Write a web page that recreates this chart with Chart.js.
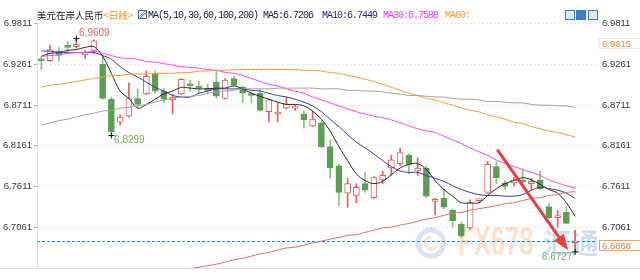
<!DOCTYPE html>
<html>
<head>
<meta charset="utf-8">
<script src="https://cdn.jsdelivr.net/npm/chart.js@4.4.0/dist/chart.umd.min.js"></script>
<style>
  html, body { margin: 0; padding: 0; background: #fff; }
  #wrap { position: relative; width: 640px; height: 280px; }
  #wrap canvas { position: absolute; left: 0; top: 0; }
  .hd { position: absolute; top: 10px; height: 11px; line-height: 11px; white-space: nowrap; z-index: 2; }
  .cn { font-family: "Noto Sans CJK SC"; font-size: 9.5px; }
  .mono { font-family: "Liberation Mono", monospace; font-size: 10px; letter-spacing: -1px; }
  .btn { position: absolute; top: 10px; width: 8px; height: 8px; border: 1px solid #3c7bd0; background: #dbe9f8; z-index: 2; }
</style>
</head>
<body>
<div id="wrap">
  <canvas id="kline" width="640" height="280"></canvas>
  <div class="hd cn" style="left:37px;color:#222">美元在岸人民币<span style="color:#f08a2c">&lt;日线&gt;</span></div>
  <div class="hd" style="left:138px;top:10px;width:7px;height:7px;border:1px solid #3f6fb5;background:linear-gradient(135deg,#fff 35%,#e44 42%,#fff 50%,#36c 60%,#fff 68%)"></div>
  <div class="hd mono" style="left:148px;color:#1c1c48">MA(5,10,30,60,100,200) MA5:6.7206</div>
  <div class="hd mono" style="left:322px;color:#2a2a90">MA10:6.7449</div>
  <div class="hd mono" style="left:383px;color:#ff33ff">MA30:6.7588</div>
  <div class="hd mono" style="left:445px;color:#ff9933">MA60:</div>
  <div class="btn" style="left:565px"></div>
  <div class="btn" style="left:576px;background:#3c7bd0"></div>
  <div class="btn" style="left:588px"></div>
</div>
<script>
// daily candles, USD/CNY onshore
const open = [6.933, 6.931, 6.944, 6.950, 6.950, 6.939, 6.945, 6.926, 6.879, 6.848,
              6.856, 6.880, 6.886, 6.913, 6.890, 6.878, 6.886, 6.899, 6.895, 6.894,
              6.902, 6.880, 6.907, 6.895, 6.886, 6.887, 6.862, 6.859, 6.867, 6.867,
              6.859, 6.843, 6.847, 6.815, 6.789, 6.752, 6.749, 6.765, 6.746, 6.770,
              6.786, 6.792, 6.803, 6.782, 6.786, 6.741, 6.745, 6.729, 6.710, 6.705,
              6.742, 6.753, 6.788, 6.766, 6.766, 6.769, 6.765, 6.770, 6.734, 6.719,
              6.726, 6.685];
const high = [6.937, 6.952, 6.949, 6.957, 6.9609, 6.945, 6.959, 6.937, 6.882, 6.858,
              6.901, 6.893, 6.917, 6.917, 6.894, 6.886, 6.907, 6.905, 6.903, 6.899,
              6.917, 6.907, 6.910, 6.897, 6.889, 6.893, 6.879, 6.874, 6.882, 6.872,
              6.863, 6.863, 6.850, 6.824, 6.791, 6.772, 6.765, 6.780, 6.774, 6.782,
              6.803, 6.813, 6.805, 6.800, 6.789, 6.745, 6.757, 6.731, 6.713, 6.743,
              6.744, 6.795, 6.795, 6.769, 6.773, 6.785, 6.772, 6.782, 6.738, 6.729,
              6.735, 6.702];
const low = [6.919, 6.930, 6.930, 6.941, 6.948, 6.934, 6.941, 6.879, 6.8299, 6.844,
             6.855, 6.867, 6.885, 6.887, 6.874, 6.859, 6.885, 6.890, 6.887, 6.886,
             6.880, 6.879, 6.897, 6.874, 6.874, 6.863, 6.848, 6.848, 6.866, 6.864,
             6.840, 6.842, 6.814, 6.772, 6.735, 6.733, 6.739, 6.753, 6.745, 6.765,
             6.776, 6.789, 6.778, 6.776, 6.746, 6.723, 6.731, 6.706, 6.692, 6.703,
             6.741, 6.752, 6.765, 6.757, 6.762, 6.762, 6.756, 6.756, 6.718, 6.706,
             6.711, 6.6727];
const close = [6.931, 6.946, 6.938, 6.949, 6.953, 6.942, 6.958, 6.880, 6.835, 6.855,
               6.880, 6.872, 6.910, 6.890, 6.879, 6.882, 6.906, 6.897, 6.894, 6.891,
               6.883, 6.905, 6.898, 6.887, 6.884, 6.864, 6.878, 6.860, 6.872, 6.868,
               6.851, 6.852, 6.815, 6.786, 6.753, 6.765, 6.760, 6.756, 6.773, 6.776,
               6.797, 6.807, 6.791, 6.786, 6.748, 6.743, 6.733, 6.715, 6.694, 6.739,
               6.743, 6.791, 6.773, 6.761, 6.770, 6.767, 6.768, 6.758, 6.719, 6.721,
               6.711, 6.6868];

// moving averages
const ma5 = [6.937, 6.941, 6.942, 6.945, 6.946, 6.949, 6.950, 6.937, 6.914, 6.890,
             6.880, 6.867, 6.872, 6.879, 6.886, 6.890, 6.895, 6.894, 6.893, 6.893,
             6.894, 6.894, 6.897, 6.893, 6.887, 6.883, 6.879, 6.875, 6.872, 6.872,
             6.870, 6.863, 6.852, 6.836, 6.815, 6.796, 6.778, 6.769, 6.765, 6.768,
             6.777, 6.786, 6.791, 6.792, 6.784, 6.769, 6.757, 6.748, 6.739, 6.739,
             6.739, 6.749, 6.758, 6.765, 6.769, 6.773, 6.770, 6.764, 6.757, 6.752,
             6.739, 6.7206];
const ma10 = [6.944, 6.944, 6.942, 6.942, 6.942, 6.942, 6.942, 6.938, 6.933, 6.923,
              6.915, 6.909, 6.902, 6.895, 6.890, 6.884, 6.882, 6.882, 6.887, 6.890,
              6.893, 6.893, 6.893, 6.893, 6.891, 6.890, 6.887, 6.884, 6.882, 6.879,
              6.875, 6.870, 6.862, 6.852, 6.842, 6.831, 6.821, 6.813, 6.805, 6.796,
              6.788, 6.782, 6.780, 6.780, 6.776, 6.772, 6.768, 6.762, 6.757, 6.753,
              6.750, 6.749, 6.749, 6.748, 6.748, 6.750, 6.756, 6.760, 6.758, 6.756,
              6.752, 6.7449];
const ma30 = [6.937, 6.938, 6.939, 6.941, 6.942, 6.942, 6.944, 6.941, 6.938, 6.935,
              6.934, 6.933, 6.930, 6.929, 6.927, 6.925, 6.923, 6.922, 6.921, 6.919,
              6.918, 6.915, 6.914, 6.911, 6.907, 6.903, 6.899, 6.897, 6.893, 6.890,
              6.887, 6.882, 6.878, 6.874, 6.870, 6.866, 6.862, 6.859, 6.856, 6.854,
              6.851, 6.847, 6.843, 6.839, 6.836, 6.834, 6.829, 6.824, 6.819, 6.813,
              6.808, 6.803, 6.797, 6.792, 6.788, 6.784, 6.780, 6.776, 6.770, 6.766,
              6.762, 6.7588];
const ma60 = [6.895, 6.898, 6.899, 6.901, 6.903, 6.905, 6.907, 6.909, 6.911, 6.911,
              6.913, 6.913, 6.913, 6.914, 6.914, 6.914, 6.915, 6.915, 6.917, 6.917,
              6.918, 6.918, 6.919, 6.919, 6.919, 6.919, 6.919, 6.919, 6.919, 6.919,
              6.918, 6.918, 6.917, 6.915, 6.914, 6.911, 6.909, 6.906, 6.903, 6.899,
              6.895, 6.891, 6.887, 6.884, 6.880, 6.878, 6.874, 6.871, 6.867, 6.864,
              6.862, 6.858, 6.855, 6.852, 6.848, 6.846, 6.842, 6.839, 6.836, 6.834,
              6.831, 6.828];
const ma100 = [6.844, 6.847, 6.850, 6.852, 6.855, 6.858, 6.860, 6.863, 6.864, 6.867,
               6.868, 6.870, 6.872, 6.875, 6.878, 6.880, 6.882, 6.883, 6.884, 6.887,
               6.889, 6.890, 6.891, 6.893, 6.893, 6.893, 6.893, 6.894, 6.894, 6.894,
               6.894, 6.894, 6.893, 6.893, 6.893, 6.891, 6.891, 6.890, 6.890, 6.889,
               6.887, 6.886, 6.884, 6.884, 6.883, 6.882, 6.882, 6.880, 6.879, 6.879,
               6.878, 6.876, 6.876, 6.875, 6.874, 6.874, 6.872, 6.871, 6.871, 6.870,
               6.870, 6.868];
const ma200 = [6.605, 6.608, 6.610, 6.613, 6.616, 6.619, 6.621, 6.624, 6.627, 6.629,
               6.632, 6.635, 6.637, 6.640, 6.643, 6.645, 6.648, 6.650, 6.652, 6.654,
               6.656, 6.659, 6.662, 6.664, 6.667, 6.670, 6.672, 6.675, 6.678, 6.679,
               6.682, 6.685, 6.687, 6.690, 6.692, 6.695, 6.696, 6.699, 6.702, 6.705,
               6.706, 6.709, 6.711, 6.714, 6.717, 6.719, 6.722, 6.725, 6.726, 6.729,
               6.731, 6.733, 6.735, 6.738, 6.739, 6.742, 6.745, 6.746, 6.749, 6.750,
               6.753, 6.754];

// axis ticks and slots (62 candles + 2 empty slots on the right)
const tickVals = [6.7061, 6.7611, 6.8161, 6.8711, 6.9261, 6.9811];
const yMin = 6.6509, yMax = 6.9986;
const slots = Array.from({ length: 64 }, (_, i) => String(i + 1));

// annotations: extreme marks, arrow (in candle index / price units), right-side tag
const markIdx = [4, 8, 61];
const markKind = ['high', 'low', 'low'];
const arrowFrom = [52.1, 6.811];
const arrowTo = [60.2, 6.675];
const refTag = 6.9615;

const RED = '#e0605d', GREEN = '#5b9f55', GREEN_WICK = '#8cc482';
const up = close.map((c, i) => c >= open[i]);

const extras = {
    id: 'extras',
    beforeDatasetsDraw(chart) {
        const { ctx, chartArea: a } = chart;
        ctx.save();
        ctx.beginPath();
        ctx.rect(a.left, a.top, a.right - a.left, a.bottom - a.top);
        ctx.clip();
        // watermark
        const cy = a.bottom - 25;
        ctx.lineWidth = 5;
        ctx.strokeStyle = 'rgba(150,180,215,0.35)';
        ctx.beginPath(); ctx.arc(a.right - 166, cy, 13, 0, Math.PI * 2); ctx.stroke();
        ctx.strokeStyle = 'rgba(250,170,110,0.35)';
        ctx.lineWidth = 3;
        ctx.beginPath(); ctx.arc(a.right - 166, cy, 6, Math.PI * 0.2, Math.PI * 1.5); ctx.stroke();
        ctx.textBaseline = 'middle';
        ctx.fillStyle = 'rgba(252,180,125,0.4)';
        ctx.font = 'bold 40px "Liberation Sans"';
        ctx.save();
        ctx.translate(a.right - 139, cy + 1);
        ctx.scale(0.64, 1);
        ctx.fillText('FX678', 0, 0);
        ctx.restore();
        ctx.fillStyle = 'rgba(120,160,215,0.35)';
        ctx.font = 'bold 28px "Noto Sans CJK SC"';
        ctx.fillText('汇通网', a.right - 54, cy);
        ctx.restore();
    },
    afterDatasetsDraw(chart) {
        const { ctx, chartArea: a, scales: { x, y } } = chart;
        ctx.save();
        // last price line, drawn as short blue dashes
        const last = close.length - 1;
        const ly = Math.round(y.getPixelForValue(close[last]));
        ctx.fillStyle = '#1f8cf5';
        for (let dx = a.left; dx < a.right; dx += 5) {
            ctx.fillRect(dx, ly, 3, 1);
        }

        // extreme marks
        ctx.font = '10px "Liberation Sans"';
        ctx.textAlign = 'center';
        ctx.textBaseline = 'middle';
        markIdx.forEach((i, k) => {
            const isHigh = markKind[k] === 'high';
            const v = isHigh ? high[i] : low[i];
            const px = x.getPixelForValue(i), py = y.getPixelForValue(v);
            ctx.strokeStyle = '#111';
            ctx.lineWidth = 1;
            ctx.beginPath();
            ctx.moveTo(px - 3, py); ctx.lineTo(px + 3, py);
            ctx.moveTo(px, py - 3); ctx.lineTo(px, py + 3);
            ctx.stroke();
            const side = px > a.right - 40 ? -1 : 1;
            ctx.fillStyle = isHigh ? '#e8605a' : '#76b05a';
            ctx.fillText(v.toFixed(4), px + side * 18, py + (isHigh ? -5 : 5));
        });

        // arrow
        const x1 = x.getPixelForValue(arrowFrom[0]), y1 = y.getPixelForValue(arrowFrom[1]);
        const x2 = x.getPixelForValue(arrowTo[0]), y2 = y.getPixelForValue(arrowTo[1]);
        const ang = Math.atan2(y2 - y1, x2 - x1);
        const head = 16, half = 6;
        const bx = x2 - head * Math.cos(ang), by = y2 - head * Math.sin(ang);
        ctx.strokeStyle = ctx.fillStyle = '#ef3b3b';
        ctx.lineWidth = 3;
        ctx.beginPath(); ctx.moveTo(x1, y1); ctx.lineTo(bx, by); ctx.stroke();
        ctx.beginPath();
        ctx.moveTo(x2, y2);
        ctx.lineTo(bx + half * Math.sin(ang), by - half * Math.cos(ang));
        ctx.lineTo(bx - half * Math.sin(ang), by + half * Math.cos(ang));
        ctx.closePath(); ctx.fill();
        ctx.restore();
    },
    afterDraw(chart) {
        const { ctx, chartArea: a, scales: { y } } = chart;
        ctx.save();
        // bottom frame
        ctx.strokeStyle = '#d6e0ea';
        ctx.lineWidth = 1;
        ctx.beginPath(); ctx.moveTo(0, a.bottom + 0.5); ctx.lineTo(640, a.bottom + 0.5); ctx.stroke();
        // price tags on the right axis
        ctx.font = '9.5px "Liberation Sans"';
        ctx.textAlign = 'left';
        ctx.textBaseline = 'middle';
        const tag = (val, color, border, dy) => {
            const ty = Math.round(y.getPixelForValue(val)) + dy;
            ctx.fillStyle = '#fff';
            ctx.fillRect(a.right + 2, ty, 43, 11);
            ctx.strokeStyle = border;
            ctx.strokeRect(a.right + 2.5, ty + 0.5, 43, 10);
            ctx.fillStyle = color;
            ctx.fillText(val.toFixed(4), a.right + 5, ty + 6);
        };
        tag(refTag, '#f08a2c', '#e8e8e8', 0);
        tag(close[close.length - 1], '#d9823c', '#f3a460', -1);
        ctx.restore();
    }
};

const tickFont = { family: 'Liberation Sans', size: 9.5 };
const line = (data, color) => ({
    type: 'line', data, borderColor: color, borderWidth: 1,
    pointRadius: 0, tension: 0.35, order: 0
});

new Chart(document.getElementById('kline'), {
    type: 'bar',
    data: {
        labels: slots,
        datasets: [
            line(ma200, '#e26b6b'),
            line(ma100, '#a0a0a0'),
            line(ma60, '#ff9a33'),
            line(ma30, '#ff44ff'),
            line(ma10, '#3b3bae'),
            line(ma5, '#2a2a2a'),
            {
                label: 'body',
                data: open.map((o, i) => [o, close[i]]),
                backgroundColor: up.map(u => u ? '#ffffff' : GREEN),
                borderColor: up.map(u => u ? RED : GREEN),
                borderWidth: 1,
                borderSkipped: false,
                barThickness: 6,
                minBarLength: 2,
                grouped: false,
                order: 1
            },
            {
                label: 'wick',
                data: low.map((l, i) => [l, high[i]]),
                backgroundColor: up.map(u => u ? RED : GREEN_WICK),
                borderWidth: 0,
                barThickness: 1,
                grouped: false,
                order: 2
            }
        ]
    },
    options: {
        responsive: false,
        animation: false,
        layout: { padding: { top: 9, bottom: 12, left: 0, right: 0 } },
        plugins: { legend: { display: false }, tooltip: { enabled: false } },
        scales: {
            x: { display: false, offset: true },
            y: {
                position: 'left', min: yMin, max: yMax,
                afterBuildTicks: s => { s.ticks = tickVals.map(v => ({ value: v })); },
                afterFit: s => { s.width = 37; },
                ticks: { font: tickFont, color: '#3a3a3a', padding: 2, callback: v => v.toFixed(4) },
                grid: { color: '#e6e6e6', tickColor: '#9fb3c4', tickLength: 3 },
                border: { display: true, color: '#d3e3ef', dash: [2, 2] }
            },
            y2: {
                position: 'right', min: yMin, max: yMax,
                afterBuildTicks: s => { s.ticks = tickVals.map(v => ({ value: v })); },
                afterFit: s => { s.width = 43; },
                ticks: { font: tickFont, color: '#3a3a3a', padding: 5, callback: v => v.toFixed(4) },
                grid: { drawOnChartArea: false, drawTicks: false },
                border: { display: false }
            }
        }
    },
    plugins: [extras]
});
</script>
</body>
</html>
